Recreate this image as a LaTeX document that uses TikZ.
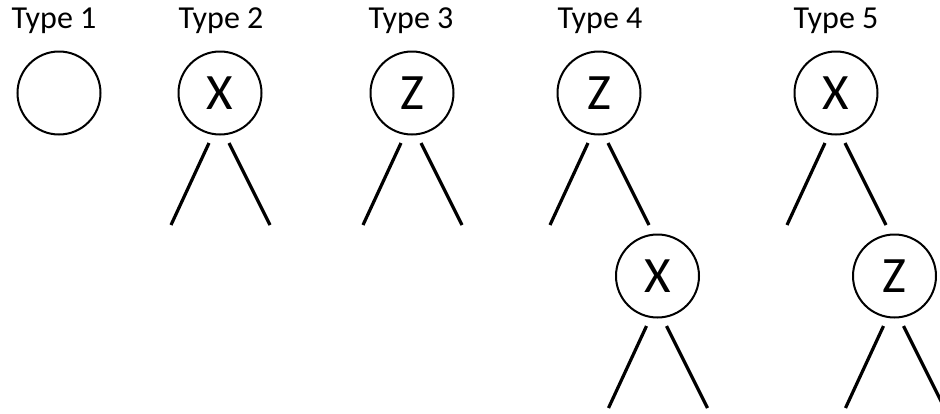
\documentclass[tikz,border=0pt]{standalone}
\usepackage{fontspec}
\setmainfont{Carlito}
\begin{document}
\begin{tikzpicture}[x=1pt,y=1pt,
  vertex/.style={circle,draw,line width=2pt,minimum size=83pt,inner sep=0pt,
                 font=\fontsize{51}{51}\selectfont},
  title/.style={anchor=base,font=\fontsize{32}{32}\selectfont},
  branch/.style={line width=3.2pt}]
\useasboundingbox (0,0) rectangle (940,-413);

% column titles
\node[title] (t1) at (54,-28)  {Type 1};
\node[title] (t2) at (221,-28) {Type 2};
\node[title] (t3) at (411,-28) {Type 3};
\node[title] (t4) at (600,-28) {Type 4};
\node[title] (t5) at (836,-28) {Type 5};

% tree vertices
\node[vertex] (c1)  at (59,-93)    {};
\node[vertex] (c2)  at (220,-93)   {X};
\node[vertex] (c3)  at (412,-93)   {Z};
\node[vertex] (c4)  at (599,-93)   {Z};
\node[vertex] (c5)  at (836,-93)   {X};
\node[vertex] (c4b) at (657.5,-276) {X};
\node[vertex] (c5b) at (894.5,-276) {Z};

% two child edges under every labelled vertex
\foreach \n in {c2,c3,c4,c5,c4b,c5b}{
  \draw[branch] ([shift={(-11,-50)}]\n.center) -- ([shift={(-49,-132)}]\n.center);
  \draw[branch] ([shift={(9,-50)}]\n.center) -- ([shift={(50,-132)}]\n.center);
}
\end{tikzpicture}
\end{document}
